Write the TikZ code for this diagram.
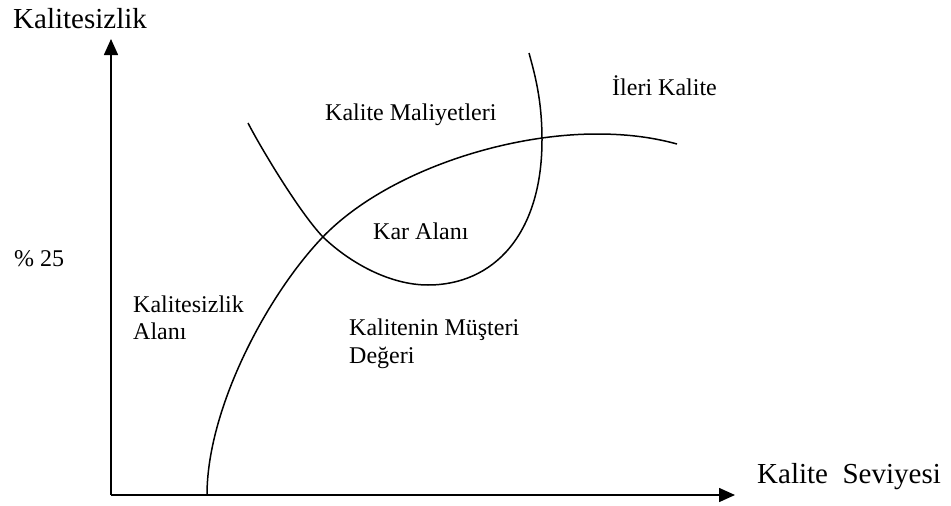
\documentclass[tikz,border=0pt]{standalone}
\usepackage{fontspec}
\setmainfont{Liberation Serif}
\usetikzlibrary{arrows.meta}
\begin{document}
\begin{tikzpicture}[x=1pt,y=-1pt,
  axis/.style={line width=1.6pt,-{Triangle[length=16pt,width=14pt]}},
  curve/.style={line width=1.5pt},
  biglab/.style={anchor=base west,inner sep=0pt,font=\fontsize{29}{34}\selectfont},
  lab/.style={anchor=base west,inner sep=0pt,font=\fontsize{24}{28}\selectfont}]
\useasboundingbox (0,0) rectangle (951,506);
\coordinate (O) at (111,495);
\coordinate (Ytip) at (111,39);
\coordinate (Xtip) at (735,495);
\draw[axis] (O) -- (Ytip);
\draw[axis] (O) -- (Xtip);
% value curve
\draw[curve] (207,495) .. controls (207,410) and (265,299) .. (320,240)
  .. controls (380,175) and (500,134) .. (597,134)
  .. controls (630,134) and (655,138) .. (677,144);
% cost curve
\draw[curve] (248,123) .. controls (262,150) and (300,213) .. (323,237)
  .. controls (350,263) and (390,285) .. (428,285)
  .. controls (493,285) and (542,235) .. (542,140)
  .. controls (542,100) and (535,75) .. (529,53);
\node[biglab] (ylab) at (13,28) {Kalitesizlik};
\node[biglab] (xlab) at (757,483) {Kalite\ \ Seviyesi};
\node[lab] (km) at (325,120) {Kalite Maliyetleri};
\node[lab] (ik) at (612,95) {İleri Kalite};
\node[lab] (ka) at (373,239) {Kar Alanı};
\node[lab] (p25) at (14,266) {\% 25};
\node[lab] (kal1) at (133,312) {Kalitesizlik};
\node[lab] (kal2) at (133,339) {Alanı};
\node[lab] (kmd1) at (349,335) {Kalitenin Müşteri};
\node[lab] (kmd2) at (349,363) {Değeri};
\end{tikzpicture}
\end{document}
